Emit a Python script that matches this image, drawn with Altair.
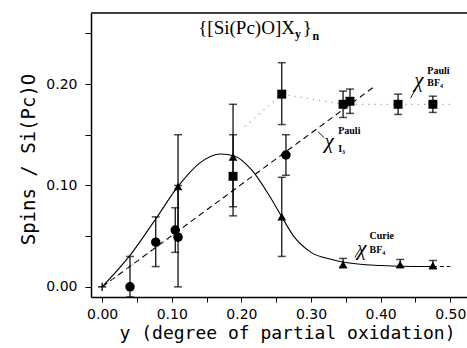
import altair as alt
import pandas as pd

# ---------------- data ----------------
# chi Pauli (I3) : filled circles
i3_x = [0.040, 0.077, 0.105, 0.109, 0.264]
i3_y = [0.000, 0.044, 0.056, 0.049, 0.130]
i3_lo = [-0.010, 0.020, 0.034, 0.000, 0.110]
i3_hi = [0.030, 0.069, 0.078, 0.100, 0.150]

# chi Curie (BF4) : filled triangles
cu_x = [0.109, 0.188, 0.258, 0.346, 0.428, 0.475]
cu_y = [0.099, 0.128, 0.069, 0.022, 0.022, 0.021]
cu_lo = [0.050, 0.079, 0.030, 0.019, 0.019, 0.018]
cu_hi = [0.150, 0.180, 0.108, 0.028, 0.027, 0.026]

# chi Pauli (BF4) : filled squares
pb_x = [0.188, 0.258, 0.346, 0.356, 0.425, 0.475]
pb_y = [0.109, 0.190, 0.180, 0.183, 0.180, 0.180]
pb_lo = [0.070, 0.160, 0.167, 0.171, 0.170, 0.172]
pb_hi = [0.150, 0.221, 0.193, 0.195, 0.190, 0.188]

# origin cross
org_x = [0.0]
org_y = [0.0]

# solid curve (Curie BF4)
curve_x = [0.0, 0.04, 0.077, 0.109, 0.14, 0.17, 0.19, 0.215, 0.24, 0.258, 0.275, 0.30, 0.33, 0.35, 0.40, 0.45, 0.475]
curve_y = [0.0, 0.031, 0.067, 0.099, 0.122, 0.131, 0.129, 0.115, 0.090, 0.069, 0.050, 0.034, 0.027, 0.024, 0.021, 0.020, 0.020]
tail_x = [0.475, 0.50]
tail_y = [0.020, 0.020]

# dashed line (Pauli I3)
dash_x = [0.0, 0.39]
dash_y = [0.0, 0.197]

# dotted line (Pauli BF4)
dot_seg = ["a", "a", "b", "b", "b", "b", "b"]
dot_x = [0.0, 0.115, 0.205, 0.258, 0.346, 0.425, 0.50]
dot_y = [0.0, 0.057, 0.158, 0.190, 0.180, 0.180, 0.180]

# labels
big_text = ["χ", "χ", "χ"]
big_x = [0.455, 0.326, 0.373]
big_y = [0.203, 0.143, 0.037]
sup_text = ["Pauli", "Pauli", "Curie"]
sup_x = [0.467, 0.339, 0.384]
sup_y = [0.213, 0.154, 0.050]
sub_text = ["BF₄", "I₃", "BF₄"]
sub_x = [0.467, 0.339, 0.384]
sub_y = [0.201, 0.136, 0.036]
lead_id = ["p", "p", "i", "i", "c", "c"]
lead_x = [0.450, 0.443, 0.310, 0.319, 0.371, 0.363]
lead_y = [0.195, 0.186, 0.153, 0.147, 0.038, 0.029]

title_main = ["{[Si(Pc)O]X"]
title_main_x = [0.138]
title_main_y = [0.255]
title_close = ["}"]
title_close_x = [0.288]
title_close_y = [0.255]
title_sub_text = ["y", "n"]
title_sub_x = [0.277, 0.302]
title_sub_y = [0.249, 0.247]

# ---------------- chart ----------------
W, H = 376, 284
xs = alt.Scale(domain=[-0.016, 0.524], nice=False, zero=False)
ys = alt.Scale(domain=[-0.01, 0.27], nice=False, zero=False)

xticks = [round(0.05 * i, 2) for i in range(11)]
yticks = [0.0, 0.05, 0.10, 0.15, 0.20, 0.25]
lab = "round(datum.value*100) % 10 == 0 ? format(datum.value, '.2f') : ''"

xaxis = alt.Axis(values=xticks, labelExpr=lab, grid=False, tickSize=5, labelPadding=5,
                 labelFlush=False, labelOverlap=False, domainColor="black", domainWidth=1.5,
                 tickColor="black", labelFont="DejaVu Sans", labelFontSize=14, labelColor="black",
                 titleFont="DejaVu Sans Mono", titleFontSize=18, titleFontWeight="normal", titleColor="black",
                 titleX=196, titleY=36, titleBaseline="middle", titleAlign="center")
yaxis = alt.Axis(values=yticks, labelExpr=lab, grid=False, tickSize=6, labelPadding=8,
                 labelFlush=False, labelOverlap=False, domainColor="black", domainWidth=1.5,
                 tickColor="black", labelFont="DejaVu Sans", labelFontSize=14, labelColor="black",
                 titleFont="DejaVu Sans Mono", titleFontSize=19, titleFontWeight="normal", titleColor="black",
                 titleX=-63, titleY=146, titleBaseline="middle", titleAlign="center", titleAngle=-90)

XT = "y (degree of partial oxidation)"
YT = "Spins / Si(Pc)O"


def X(f):
    return alt.X(f, type="quantitative", scale=xs, axis=xaxis, title=XT)


def Y(f):
    return alt.Y(f, type="quantitative", scale=ys, axis=yaxis, title=YT)


def pts(xv, yv, lo, hi):
    return pd.DataFrame({"x": xv, "y": yv, "lo": lo, "hi": hi})


d_i3 = pts(i3_x, i3_y, i3_lo, i3_hi)
d_cu = pts(cu_x, cu_y, cu_lo, cu_hi)
d_pb = pts(pb_x, pb_y, pb_lo, pb_hi)
d_all = pd.concat([d_i3, d_cu, d_pb], ignore_index=True)
caps = pd.concat([d_all[["x", "lo"]].rename(columns={"lo": "y"}),
                  d_all[["x", "hi"]].rename(columns={"hi": "y"})], ignore_index=True)

layers = []

# curves
layers.append(alt.Chart(pd.DataFrame({"x": curve_x, "y": curve_y})).mark_line(
    color="black", strokeWidth=1.1, interpolate="monotone").encode(x=X("x"), y=Y("y")))
layers.append(alt.Chart(pd.DataFrame({"x": tail_x, "y": tail_y})).mark_line(
    color="black", strokeWidth=1.1, strokeDash=[4, 3]).encode(x=X("x"), y=Y("y")))
layers.append(alt.Chart(pd.DataFrame({"x": dash_x, "y": dash_y})).mark_line(
    color="black", strokeWidth=1.1, strokeDash=[6, 4]).encode(x=X("x"), y=Y("y")))
layers.append(alt.Chart(pd.DataFrame({"x": dot_x, "y": dot_y, "s": dot_seg})).mark_line(
    color="#999999", strokeWidth=1.2, strokeDash=[1.2, 5]).encode(x=X("x"), y=Y("y"), detail="s:N"))

# error bars
layers.append(alt.Chart(d_all).mark_rule(color="black", strokeWidth=1.2).encode(
    x=X("x"), y=Y("lo"), y2="hi"))
layers.append(alt.Chart(caps).mark_tick(color="black", orient="horizontal", size=8, thickness=1.5).encode(
    x=X("x"), y=Y("y")))

# markers
layers.append(alt.Chart(d_i3).mark_point(shape="circle", filled=True, color="black", size=90, opacity=1).encode(
    x=X("x"), y=Y("y")))
layers.append(alt.Chart(d_cu).mark_point(shape="triangle-up", filled=True, color="black", size=75, opacity=1).encode(
    x=X("x"), y=Y("y")))
layers.append(alt.Chart(d_pb).mark_point(shape="square", filled=True, color="black", size=80, opacity=1).encode(
    x=X("x"), y=Y("y")))
layers.append(alt.Chart(pd.DataFrame({"x": org_x, "y": org_y})).mark_point(
    shape="M-1,0L1,0M0,-1L0,1", filled=False, color="black", strokeWidth=1.3, size=70, opacity=1).encode(
    x=X("x"), y=Y("y")))

# leader lines
layers.append(alt.Chart(pd.DataFrame({"x": lead_x, "y": lead_y, "id": lead_id})).mark_line(
    color="black", strokeWidth=0.9).encode(x=X("x"), y=Y("y"), detail="id:N"))

# labels
layers.append(alt.Chart(pd.DataFrame({"x": big_x, "y": big_y, "t": big_text})).mark_text(
    font="Liberation Serif", fontSize=21, fontStyle="italic", align="center", baseline="middle", color="black").encode(
    x=X("x"), y=Y("y"), text="t:N"))
layers.append(alt.Chart(pd.DataFrame({"x": sup_x, "y": sup_y, "t": sup_text})).mark_text(
    font="Liberation Serif", fontSize=10, fontWeight="bold", align="left", baseline="middle", color="black").encode(
    x=X("x"), y=Y("y"), text="t:N"))
layers.append(alt.Chart(pd.DataFrame({"x": sub_x, "y": sub_y, "t": sub_text})).mark_text(
    font="Liberation Serif", fontSize=10, fontWeight="bold", align="left", baseline="middle", color="black").encode(
    x=X("x"), y=Y("y"), text="t:N"))

# formula title
layers.append(alt.Chart(pd.DataFrame({"x": title_main_x, "y": title_main_y, "t": title_main})).mark_text(
    font="Liberation Serif", fontSize=19, align="left", baseline="middle", color="black").encode(
    x=X("x"), y=Y("y"), text="t:N"))
layers.append(alt.Chart(pd.DataFrame({"x": title_close_x, "y": title_close_y, "t": title_close})).mark_text(
    font="Liberation Serif", fontSize=19, align="left", baseline="middle", color="black").encode(
    x=X("x"), y=Y("y"), text="t:N"))
layers.append(alt.Chart(pd.DataFrame({"x": title_sub_x, "y": title_sub_y, "t": title_sub_text})).mark_text(
    font="Liberation Serif", fontSize=12, fontWeight="bold", align="left", baseline="middle", color="black").encode(
    x=X("x"), y=Y("y"), text="t:N"))

# top frame line
layers.append(alt.Chart(pd.DataFrame({"k": [0]})).mark_rule(color="black", strokeWidth=1.5).encode(
    x=alt.value(0), x2=alt.value(W), y=alt.value(0)))

chart = alt.layer(*layers).properties(
    width=W, height=H,
    autosize=alt.AutoSizeParams(type="none"),
    padding={"left": 91, "top": 13, "right": 0, "bottom": 51},
    background="white",
).configure_view(strokeWidth=0)

chart.save("out.html", embed_options={"renderer": "svg", "actions": False})
